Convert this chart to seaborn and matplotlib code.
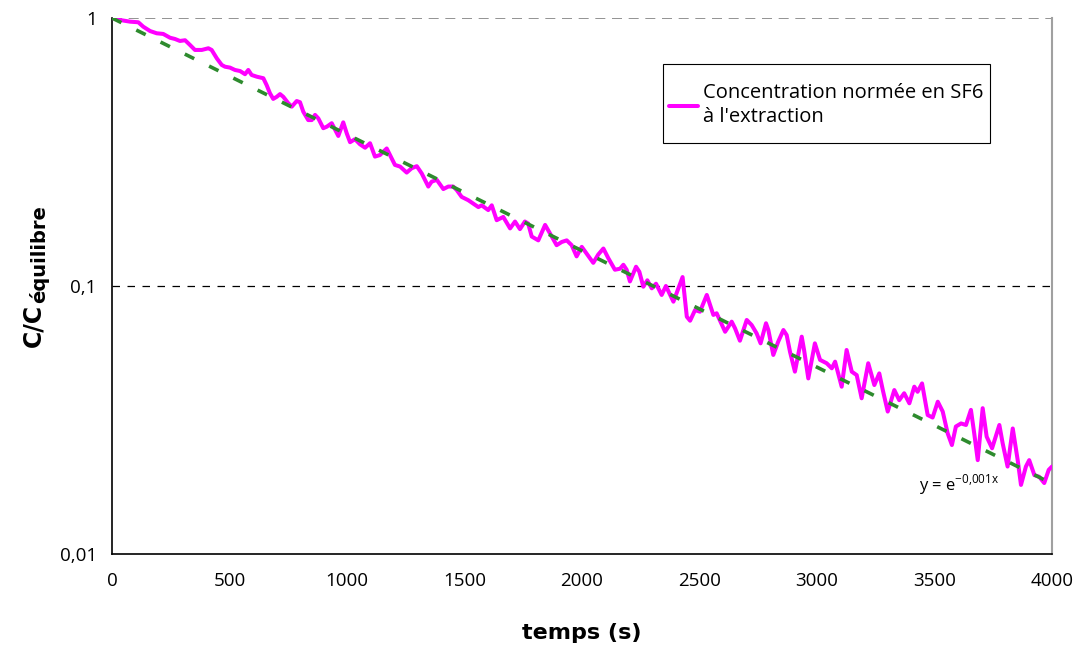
import numpy as np
import pandas as pd
import matplotlib
matplotlib.use("Agg")
import matplotlib.pyplot as plt
import seaborn as sns
from matplotlib.patches import Rectangle
from matplotlib.ticker import FixedLocator, FixedFormatter, NullLocator

# ---- data ----
temps = [0, 34, 77, 112, 133, 162, 190, 218, 247, 268, 289, 311, 332, 353, 382, 410, 424, 446, 467, 481,
         502, 523, 545, 566, 580, 594, 616, 644, 658, 672, 686, 701, 715, 729, 750, 765, 786, 800, 814, 835,
         850, 864, 878, 899, 914, 935, 963, 984, 999, 1013, 1034, 1055, 1077, 1098, 1119, 1140, 1169, 1183, 1204, 1226,
         1254, 1275, 1297, 1318, 1346, 1360, 1382, 1410, 1431, 1452, 1467, 1488, 1516, 1537, 1559, 1573, 1601, 1616, 1637, 1665,
         1694, 1715, 1736, 1757, 1771, 1786, 1814, 1843, 1864, 1892, 1914, 1935, 1956, 1977, 1999, 2020, 2048, 2069, 2091, 2112,
         2140, 2162, 2176, 2190, 2204, 2230, 2244, 2261, 2278, 2297, 2315, 2339, 2357, 2389, 2428, 2446, 2460, 2481, 2502, 2531,
         2559, 2573, 2609, 2637, 2651, 2672, 2701, 2722, 2743, 2760, 2783, 2793, 2814, 2835, 2857, 2871, 2885, 2906, 2935, 2945,
         2963, 2991, 3013, 3041, 3063, 3077, 3105, 3126, 3148, 3169, 3190, 3218, 3244, 3265, 3280, 3301, 3329, 3350, 3371, 3393,
         3414, 3428, 3447, 3471, 3492, 3514, 3535, 3556, 3574, 3591, 3613, 3634, 3655, 3669, 3684, 3705, 3722, 3745, 3776, 3790,
         3811, 3833, 3854, 3868, 3889, 3903, 3925, 3946, 3967, 3986, 4000]
concentration = [1.0, 0.983, 0.969, 0.964, 0.928, 0.894, 0.877, 0.872, 0.844, 0.835, 0.821, 0.826, 0.793, 0.760, 0.760, 0.771, 0.760, 0.707, 0.668, 0.658,
                 0.653, 0.640, 0.634, 0.617, 0.640, 0.613, 0.604, 0.596, 0.562, 0.524, 0.499, 0.508, 0.520, 0.508, 0.481, 0.467, 0.490, 0.485, 0.447, 0.416,
                 0.416, 0.435, 0.422, 0.388, 0.393, 0.405, 0.363, 0.408, 0.371, 0.344, 0.353, 0.338, 0.328, 0.341, 0.304, 0.308, 0.326, 0.308, 0.283, 0.279,
                 0.265, 0.275, 0.280, 0.263, 0.235, 0.245, 0.249, 0.230, 0.235, 0.235, 0.228, 0.215, 0.209, 0.203, 0.197, 0.200, 0.192, 0.200, 0.176, 0.181,
                 0.164, 0.174, 0.163, 0.174, 0.171, 0.153, 0.148, 0.169, 0.157, 0.142, 0.146, 0.148, 0.142, 0.129, 0.140, 0.132, 0.122, 0.131, 0.138, 0.127,
                 0.115, 0.116, 0.120, 0.115, 0.104, 0.118, 0.113, 0.0994, 0.105, 0.098, 0.102, 0.0926, 0.100, 0.0874, 0.108, 0.0768, 0.0742, 0.0813, 0.0802, 0.0926,
                 0.0780, 0.0791, 0.0675, 0.0736, 0.0696, 0.0625, 0.0747, 0.0715, 0.0666, 0.0611, 0.0726, 0.0685, 0.0553, 0.0620, 0.0685, 0.0656, 0.0569, 0.0479, 0.0647, 0.0577,
                 0.0452, 0.0611, 0.0530, 0.0515, 0.0493, 0.0522, 0.0421, 0.0577, 0.0479, 0.0465, 0.0381, 0.0515, 0.0427, 0.0472, 0.0409, 0.0340, 0.0409, 0.0375, 0.0398, 0.0365,
                 0.0421, 0.0403, 0.0433, 0.0330, 0.0323, 0.0370, 0.0340, 0.0282, 0.0255, 0.0299, 0.0307, 0.0303, 0.0345, 0.0282, 0.0224, 0.0350, 0.0274, 0.0248, 0.0303, 0.0259,
                 0.0212, 0.0294, 0.0224, 0.0181, 0.0212, 0.0224, 0.0197, 0.0194, 0.0184, 0.0206, 0.0212]

trend_coef = -0.001
trend_x = [0, 4000]

x_ticks = [0, 500, 1000, 1500, 2000, 2500, 3000, 3500, 4000]
y_ticks = [0.01, 0.1, 1]
y_tick_labels = ["0,01", "0,1", "1"]
series_label = "Concentration normée en SF6\nà l'extraction"
trend_label = r"y = e$^{\mathregular{-0{,}001x}}$"
x_title = "temps (s)"
y_title_main = "C/C"
y_title_sub = "équilibre"

# ---- figure ----
sns.set_theme(style="white")
plt.rcParams["font.family"] = ["Open Sans", "DejaVu Sans"]
plt.rcParams["mathtext.fontset"] = "custom"
plt.rcParams["mathtext.rm"] = "Open Sans"
for k in ["text.color", "axes.labelcolor", "xtick.color", "ytick.color"]:
    plt.rcParams[k] = "black"

W, H = 1078, 650
fig = plt.figure(figsize=(W / 100, H / 100), dpi=100)
ax = fig.add_axes([112 / W, 1 - 554 / H, 940 / W, 536 / H])

df = pd.DataFrame({"temps": temps, "C": concentration})
tx = np.linspace(trend_x[0], trend_x[1], 200)
dft = pd.DataFrame({"temps": tx, "C": np.exp(trend_coef * tx)})

ax.set_yscale("log")
sns.lineplot(data=df, x="temps", y="C", ax=ax, color="#ff00ff", linewidth=2.9,
             estimator=None, sort=False, label=series_label, zorder=3,
             solid_joinstyle="round", solid_capstyle="round")
sns.lineplot(data=dft, x="temps", y="C", ax=ax, color="#2e8b2e", linewidth=2.6,
             estimator=None, sort=False, zorder=4)
ax.lines[-1].set_dashes([2.9, 4.6])
ax.lines[-1].set_label("_nolegend_")
ax.set_xlabel("")
ax.set_ylabel("")

ax.set_xlim(0, 4000)
ax.set_ylim(0.01, 1)
ax.xaxis.set_major_locator(FixedLocator(x_ticks))
ax.yaxis.set_major_locator(FixedLocator(y_ticks))
ax.yaxis.set_major_formatter(FixedFormatter(y_tick_labels))
ax.yaxis.set_minor_locator(NullLocator())
ax.tick_params(axis="both", which="major", direction="inout", length=8, width=1,
               color="black", labelsize=13.5, labelcolor="black")
ax.tick_params(axis="x", pad=9)
ax.tick_params(axis="y", pad=7)

ax.axhline(0.1, color="black", linewidth=0.9, linestyle=(0, (6, 6)), zorder=1)
ax.axhline(1, color="#808080", linewidth=1.2, linestyle=(0, (6, 4)), zorder=1)

for side in ["left", "bottom"]:
    ax.spines[side].set_color("black")
    ax.spines[side].set_linewidth(1.2)
ax.spines["top"].set_visible(False)
ax.spines["right"].set_color("#a0a0a0")
ax.spines["right"].set_linewidth(1.5)

# x title
fig.text(582 / W, 1 - 633 / H, x_title, fontsize=16, fontweight="bold",
         family="DejaVu Sans", ha="center", va="center")

# y title: main part + subscript
t1 = fig.text(40 / W, 1 - 347 / H, y_title_main, fontsize=17, fontweight="bold",
              family="DejaVu Sans", rotation=90, rotation_mode="anchor",
              ha="left", va="baseline")
fig.canvas.draw()
bb = t1.get_window_extent(renderer=fig.canvas.get_renderer())
fig.text(45 / W, (bb.y1 + 1) / H, y_title_sub, fontsize=14, fontweight="bold",
         family="DejaVu Sans", rotation=90, rotation_mode="anchor",
         ha="left", va="baseline")

ax.text(3434, 0.0173, trend_label, fontsize=12, color="black", va="baseline", ha="left")

# legend (frame drawn separately to mimic the asymmetric padding)
leg = ax.legend(loc="upper left", bbox_to_anchor=((669 - 112) / 940, 1 - (83 - 18) / 536),
                fontsize=14.5, frameon=False, borderpad=0, handlelength=1.45,
                handletextpad=0.25, borderaxespad=0)
for txt in leg.get_texts():
    txt.set_linespacing(1.3)
ax.add_patch(Rectangle(((663 - 112) / 940, 1 - (143 - 18) / 536), (990 - 663) / 940, (143 - 64) / 536,
                       transform=ax.transAxes, fill=True, facecolor="white",
                       edgecolor="black", linewidth=0.8, zorder=5))
leg.set_zorder(6)

fig.savefig("out.png", dpi=100)
